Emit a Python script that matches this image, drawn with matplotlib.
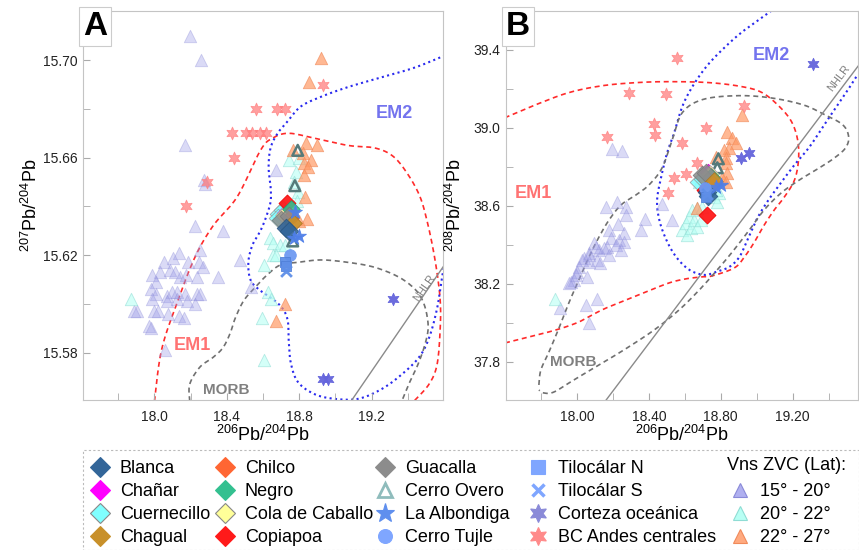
import numpy as np
import matplotlib
matplotlib.use('Agg')
import matplotlib.pyplot as plt
from matplotlib.lines import Line2D
from matplotlib.patches import Rectangle
from matplotlib.ticker import MultipleLocator, FormatStrFormatter

plt.rcParams['font.family'] = ['Liberation Sans', 'DejaVu Sans']
plt.rcParams['mathtext.default'] = 'regular'

# ---------------- panel A : 206Pb/204Pb vs 207Pb/204Pb ----------------
a_lat1 = [(18.195, 15.710), (18.257, 15.700), (18.167, 15.665), (18.273, 15.651), (18.279, 15.649),
          (18.670, 15.655), (18.223, 15.632), (18.379, 15.630), (18.474, 15.618), (18.536, 15.607),
          (18.134, 15.621), (18.100, 15.619), (18.050, 15.617), (18.184, 15.617), (18.251, 15.622),
          (18.246, 15.617), (18.268, 15.615), (18.352, 15.611), (18.033, 15.613), (17.989, 15.612),
          (18.084, 15.614), (18.112, 15.613), (18.140, 15.611), (18.173, 15.612), (18.234, 15.611),
          (18.011, 15.609), (17.983, 15.606), (18.011, 15.604), (17.989, 15.602), (18.067, 15.603),
          (18.095, 15.605), (18.123, 15.605), (18.167, 15.604), (18.234, 15.604), (18.251, 15.604),
          (18.067, 15.601), (18.123, 15.602), (18.179, 15.601), (18.223, 15.600), (17.905, 15.597),
          (17.888, 15.597), (18.000, 15.597), (18.022, 15.597), (18.073, 15.596), (18.134, 15.595),
          (18.162, 15.594), (17.972, 15.591), (17.983, 15.590), (18.061, 15.581)]
a_lat2 = [(17.872, 15.602), (18.742, 15.659), (18.798, 15.660), (18.781, 15.654), (18.770, 15.650),
          (18.792, 15.646), (18.787, 15.642), (18.636, 15.627), (18.658, 15.625), (18.692, 15.624),
          (18.720, 15.624), (18.658, 15.620), (18.608, 15.616), (18.670, 15.620), (18.625, 15.605),
          (18.642, 15.602), (18.597, 15.594), (18.603, 15.577)]
a_lat3 = [(18.921, 15.701), (18.854, 15.691), (18.837, 15.666), (18.898, 15.665), (18.764, 15.663),
          (18.820, 15.662), (18.865, 15.659), (18.826, 15.658), (18.848, 15.656), (18.826, 15.653),
          (18.831, 15.644), (18.843, 15.635), (18.798, 15.634), (18.720, 15.600), (18.670, 15.593)]
a_bc = [(18.932, 15.690), (18.564, 15.680), (18.675, 15.680), (18.720, 15.680), (18.430, 15.670),
        (18.508, 15.670), (18.541, 15.670), (18.586, 15.670), (18.614, 15.670), (18.441, 15.660),
        (18.290, 15.650), (18.173, 15.640)]
a_oc = [(19.317, 15.602), (18.932, 15.569), (18.960, 15.569)]
a_overo = [(18.792, 15.663), (18.776, 15.6485), (18.764, 15.6258)]
a_albondiga = [(18.776, 15.6378), (18.798, 15.628), (18.770, 15.627)]
a_tujle = [(18.748, 15.620)]
a_tilo_n = [(18.720, 15.6172), (18.725, 15.6155)]
a_tilo_s = [(18.725, 15.6135)]
a_cuernecillo = [(18.686, 15.637), (18.709, 15.6386), (18.681, 15.6353)]
a_chanar = [(18.720, 15.6374)]
a_cola = [(18.714, 15.6366)]
a_copiapoa = [(18.731, 15.6415)]
a_negro = [(18.753, 15.639)]
a_chilco = [(18.748, 15.6353)]
a_guacalla = [(18.698, 15.6345), (18.742, 15.636)]
a_chagual = [(18.764, 15.6333)]
a_blanca = [(18.725, 15.6312), (18.742, 15.630)]

a_em1 = [(18.000, 15.560), (18.039, 15.581), (18.123, 15.600), (18.223, 15.619), (18.324, 15.632),
         (18.458, 15.644), (18.586, 15.663), (18.653, 15.668), (18.742, 15.670), (18.882, 15.668),
         (19.071, 15.665), (19.216, 15.664), (19.311, 15.661), (19.384, 15.655), (19.462, 15.645),
         (19.507, 15.634), (19.551, 15.618), (19.579, 15.602), (19.579, 15.589), (19.562, 15.575),
         (19.518, 15.567), (19.434, 15.560)]
a_em2 = [(19.607, 15.702), (19.440, 15.697), (19.256, 15.693), (19.071, 15.689), (18.921, 15.685),
         (18.809, 15.681), (18.737, 15.675), (18.681, 15.670), (18.642, 15.664), (18.631, 15.656),
         (18.642, 15.648), (18.642, 15.642), (18.619, 15.636), (18.586, 15.630), (18.541, 15.624),
         (18.519, 15.617), (18.530, 15.610), (18.575, 15.606), (18.653, 15.602), (18.709, 15.598),
         (18.737, 15.593), (18.742, 15.585), (18.753, 15.576), (18.792, 15.568), (18.882, 15.563),
         (18.993, 15.561), (19.127, 15.561), (19.256, 15.565), (19.367, 15.571), (19.462, 15.578),
         (19.518, 15.586), (19.562, 15.598), (19.590, 15.611), (19.607, 15.618)]
a_morb = [(18.195, 15.560), (18.195, 15.567), (18.251, 15.574), (18.324, 15.578), (18.379, 15.582),
          (18.419, 15.588), (18.446, 15.594), (18.491, 15.601), (18.547, 15.606), (18.625, 15.612),
          (18.698, 15.616), (18.792, 15.617), (18.921, 15.618), (19.071, 15.617), (19.216, 15.615),
          (19.350, 15.611), (19.440, 15.606), (19.484, 15.601), (19.507, 15.595), (19.512, 15.589),
          (19.490, 15.582), (19.456, 15.575), (19.412, 15.568), (19.367, 15.560)]
a_nhlr_x = [19.0, 19.7]
a_nhlr_slope, a_nhlr_icpt = 0.1084, 13.491

# ---------------- panel B : 206Pb/204Pb vs 208Pb/204Pb ----------------
b_lat1 = [(18.195, 38.892), (18.251, 38.882), (18.162, 38.595), (18.223, 38.621), (18.273, 38.595),
          (18.273, 38.554), (18.379, 38.533), (18.474, 38.610), (18.530, 38.528), (18.357, 38.477),
          (18.229, 38.508), (18.179, 38.477), (18.190, 38.436), (18.234, 38.426), (18.262, 38.462),
          (18.262, 38.415), (18.218, 38.400), (18.246, 38.374), (18.167, 38.390), (18.151, 38.385),
          (18.123, 38.374), (18.106, 38.390), (18.095, 38.410), (18.067, 38.359), (18.067, 38.349),
          (18.039, 38.333), (18.028, 38.323), (18.067, 38.313), (18.011, 38.287), (18.000, 38.262),
          (17.983, 38.221), (17.967, 38.210), (17.955, 38.205), (17.994, 38.246), (18.056, 38.236),
          (18.112, 38.323), (18.179, 38.349), (18.128, 38.308), (17.905, 38.077), (18.050, 38.092),
          (18.112, 38.123), (18.067, 37.999)]
b_lat2 = [(17.877, 38.123), (18.586, 38.477), (18.614, 38.451), (18.608, 38.513), (18.625, 38.544),
          (18.636, 38.487), (18.653, 38.528), (18.670, 38.492), (18.642, 38.579), (18.670, 38.590),
          (18.692, 38.528), (18.698, 38.595), (18.764, 38.646), (18.781, 38.621), (18.792, 38.667),
          (18.776, 38.682), (18.681, 38.723), (18.709, 38.744)]
b_lat3 = [(18.921, 39.067), (18.837, 38.980), (18.865, 38.949), (18.887, 38.923), (18.848, 38.897),
          (18.820, 38.887), (18.776, 38.851), (18.831, 38.846), (18.831, 38.821), (18.837, 38.769),
          (18.809, 38.744), (18.831, 38.723), (18.753, 38.733), (18.670, 38.590)]
b_bc = [(18.558, 39.359), (18.290, 39.180), (18.497, 39.174), (18.430, 39.021), (18.435, 38.964),
        (18.720, 39.000), (18.167, 38.954), (18.586, 38.923), (18.670, 38.821), (18.608, 38.764),
        (18.541, 38.744), (18.508, 38.667), (18.932, 39.113)]
b_oc = [(19.311, 39.328), (18.915, 38.846), (18.960, 38.872)]
b_overo = [(18.787, 38.841), (18.781, 38.795)]
b_albondiga = [(18.804, 38.708), (18.776, 38.697)]
b_tujle = [(18.714, 38.690)]
b_tilo_n = [(18.720, 38.646)]
b_tilo_s = [(18.725, 38.660)]
b_cuernecillo = [(18.681, 38.723), (18.703, 38.738)]
b_chanar = [(18.731, 38.774)]
b_cola = [(18.742, 38.764)]
b_copiapoa = [(18.725, 38.554), (18.714, 38.682)]
b_negro = [(18.748, 38.749)]
b_chilco = [(18.759, 38.713)]
b_guacalla = [(18.698, 38.759), (18.720, 38.769)]
b_chagual = [(18.764, 38.728)]
b_blanca = [(18.725, 38.672), (18.731, 38.651)]

b_em1 = [(17.598, 39.051), (17.771, 39.118), (17.955, 39.180), (18.140, 39.215), (18.329, 39.231),
         (18.513, 39.236), (18.737, 39.231), (18.921, 39.210), (19.032, 39.179), (19.127, 39.108),
         (19.194, 39.031), (19.228, 38.938), (19.233, 38.836), (19.211, 38.733), (19.155, 38.646),
         (19.099, 38.580), (19.043, 38.503), (18.988, 38.415), (18.932, 38.338), (18.876, 38.282),
         (18.753, 38.241), (18.698, 38.236), (18.608, 38.226), (18.513, 38.205), (18.385, 38.159),
         (18.273, 38.118), (18.140, 38.067), (18.011, 38.005), (17.883, 37.964), (17.732, 37.928),
         (17.598, 37.897)]
b_em2 = [(19.083, 39.600), (18.921, 39.492), (18.809, 39.400), (18.720, 39.313), (18.642, 39.210),
         (18.586, 39.108), (18.541, 38.974), (18.502, 38.872), (18.469, 38.749), (18.446, 38.631),
         (18.458, 38.528), (18.497, 38.426), (18.552, 38.338), (18.625, 38.272), (18.709, 38.246),
         (18.776, 38.262), (18.848, 38.287), (18.904, 38.338), (18.949, 38.426), (18.999, 38.528),
         (19.055, 38.615), (19.127, 38.708), (19.211, 38.810), (19.295, 38.903), (19.395, 39.041),
         (19.490, 39.169), (19.562, 39.272)]
b_morb = [(17.788, 37.682), (17.799, 37.759), (17.844, 37.851), (17.900, 37.974), (17.955, 38.103),
          (18.011, 38.221), (18.067, 38.338), (18.123, 38.441), (18.179, 38.528), (18.246, 38.605),
          (18.329, 38.656), (18.402, 38.708), (18.474, 38.795), (18.530, 38.938), (18.586, 39.077),
          (18.698, 39.144), (18.887, 39.164), (19.071, 39.154), (19.256, 39.118), (19.378, 39.067),
          (19.479, 39.015), (19.512, 38.954), (19.495, 38.897), (19.434, 38.846), (19.350, 38.795),
          (19.239, 38.733), (19.138, 38.667), (19.043, 38.580), (18.960, 38.477), (18.865, 38.364),
          (18.781, 38.272), (18.681, 38.169), (18.569, 38.067), (18.430, 37.964), (18.262, 37.862),
          (18.123, 37.785), (17.983, 37.708), (17.872, 37.646), (17.816, 37.641), (17.788, 37.656)]
b_nhlr_x = [18.0, 19.7]
b_nhlr_slope, b_nhlr_icpt = 1.22, 15.447

legend_labels = ['Blanca', 'Chañar', 'Cuernecillo', 'Chagual',
                 'Chilco', 'Negro', 'Cola de Caballo', 'Copiapoa',
                 'Guacalla', 'Cerro Overo', 'La Albondiga', 'Cerro Tujle',
                 'Tilocálar N', 'Tilocálar S', 'Corteza oceánica', 'BC Andes centrales',
                 ' ', '15° - 20°', '20° - 22°', '22° - 27°']

HEX = (6, 1, 0)
# style per series: marker, face, edge, size, alpha
STY = {
    'lat1': ('^', '#9f9fe8', '#8a8ad8', 80, 0.38),
    'lat2': ('^', '#b8fff4', '#8fdcd4', 80, 0.6),
    'lat3': ('^', '#ff9a66', '#f08a5a', 80, 0.7),
    'bc': (HEX, '#ff7f7f', '#ff7f7f', 85, 0.75),
    'oc': (HEX, '#6464dc', '#6464dc', 80, 0.95),
    'cuernecillo': ('D', '#80ffff', '#999999', 90, 0.85),
    'chanar': ('D', '#ff00ff', '#cc00cc', 70, 0.9),
    'cola': ('D', '#ffff99', '#aaaaaa', 80, 0.9),
    'copiapoa': ('D', '#ff1a1a', '#ee0000', 75, 0.95),
    'negro': ('D', '#33c090', '#229970', 80, 0.9),
    'chilco': ('D', '#ff6633', '#dd5522', 75, 0.9),
    'guacalla': ('D', '#8c8c8c', '#777777', 90, 0.85),
    'chagual': ('D', '#c8902a', '#aa7722', 80, 0.9),
    'blanca': ('D', '#336699', '#2a5580', 90, 0.9),
    'overo': ('^', 'none', '#557a7a', 60, 1.0),
    'albondiga': ('*', '#4f7fe8', '#4f7fe8', 110, 0.95),
    'tujle': ('o', '#6f9af2', '#6f9af2', 70, 0.95),
    'tilo_n': ('s', '#5f8fe8', '#4f7fd8', 60, 0.95),
    'tilo_s': ('x', '#5f8fe8', '#5f8fe8', 60, 0.95),
}


def smooth(pts, n=14):
    p = np.array(pts, dtype=float)
    p = np.vstack([p[0], p, p[-1]])
    t = np.linspace(0, 1, n, endpoint=False)[:, None]
    out = []
    for i in range(1, len(p) - 2):
        p0, p1, p2, p3 = p[i - 1], p[i], p[i + 1], p[i + 2]
        out.append(0.5 * (2 * p1 + (-p0 + p2) * t + (2 * p0 - 5 * p1 + 4 * p2 - p3) * t ** 2
                          + (-p0 + 3 * p1 - 3 * p2 + p3) * t ** 3))
    out.append(p[-2][None])
    return np.vstack(out)


def scat(ax, pts, key, z):
    m, fc, ec, s, a = STY[key]
    x, y = zip(*pts)
    if m == 'x':
        ax.scatter(x, y, marker=m, s=s, c=fc, alpha=a, linewidths=2, zorder=z)
    elif fc == 'none':
        ax.scatter(x, y, marker=m, s=s, facecolors='none', edgecolors=ec, linewidths=1.8, zorder=z)
    else:
        ax.scatter(x, y, marker=m, s=s, c=fc, edgecolors=ec, linewidths=0.6, alpha=a, zorder=z)


def curves(ax, em1, em2, morb, nx, slope, icpt):
    c = smooth(em1)
    ax.plot(c[:, 0], c[:, 1], color='#ff2a2a', lw=1.2, ls=(0, (3, 2.2)), zorder=1)
    c = smooth(em2)
    ax.plot(c[:, 0], c[:, 1], color='#2a2aee', lw=1.5, ls=(0, (1, 1.6)), zorder=1)
    c = smooth(morb)
    ax.plot(c[:, 0], c[:, 1], color='#707070', lw=1.2, ls=(0, (3, 2.2)), zorder=1)
    nx = np.array(nx)
    ax.plot(nx, slope * nx + icpt, color='#8a8a8a', lw=1.0, zorder=1)


def style_axes(ax, xfmt, yfmt, ymaj, yoff, ymin):
    ax.xaxis.set_major_locator(MultipleLocator(0.4))
    ax.xaxis.set_minor_locator(MultipleLocator(0.2))
    ax.yaxis.set_major_locator(MultipleLocator(ymaj, offset=yoff))
    ax.yaxis.set_minor_locator(MultipleLocator(ymin))
    ax.xaxis.set_major_formatter(FormatStrFormatter(xfmt))
    ax.yaxis.set_major_formatter(FormatStrFormatter(yfmt))
    ax.tick_params(which='both', direction='in', length=5, color='#aaaaaa', labelsize=10,
                   labelcolor='#222222')
    ax.tick_params(axis='x', which='both', pad=7)
    ax.tick_params(axis='y', which='both', pad=4)
    for sp in ax.spines.values():
        sp.set_color('#c4c4c4')
    ax.set_xlabel('$^{206}$Pb/$^{204}$Pb', fontsize=13)
    ax.xaxis.set_label_coords(0.5, -0.065)


fig = plt.figure(figsize=(8.59, 5.5), dpi=100)
axA = fig.add_axes([83 / 859, 150 / 550, 360 / 859, 389 / 550])
axB = fig.add_axes([506 / 859, 150 / 550, 352 / 859, 389 / 550])

panels = [
    (axA, dict(lat1=a_lat1, lat2=a_lat2, lat3=a_lat3, bc=a_bc, oc=a_oc, overo=a_overo,
               cuernecillo=a_cuernecillo, chanar=a_chanar, cola=a_cola, copiapoa=a_copiapoa,
               negro=a_negro, chilco=a_chilco, guacalla=a_guacalla, chagual=a_chagual,
               blanca=a_blanca, albondiga=a_albondiga, tujle=a_tujle, tilo_n=a_tilo_n,
               tilo_s=a_tilo_s)),
    (axB, dict(lat1=b_lat1, lat2=b_lat2, lat3=b_lat3, bc=b_bc, oc=b_oc, overo=b_overo,
               cuernecillo=b_cuernecillo, chanar=b_chanar, cola=b_cola, copiapoa=b_copiapoa,
               negro=b_negro, chilco=b_chilco, guacalla=b_guacalla, chagual=b_chagual,
               blanca=b_blanca, albondiga=b_albondiga, tujle=b_tujle, tilo_n=b_tilo_n,
               tilo_s=b_tilo_s)),
]
for ax, groups in panels:
    for z, (key, pts) in enumerate(groups.items()):
        scat(ax, pts, key, 2 + z * 0.1)

curves(axA, a_em1, a_em2, a_morb, a_nhlr_x, a_nhlr_slope, a_nhlr_icpt)
curves(axB, b_em1, b_em2, b_morb, b_nhlr_x, b_nhlr_slope, b_nhlr_icpt)

axA.set_xlim(17.605, 19.595)
axA.set_ylim(15.5605, 15.7202)
style_axes(axA, '%.1f', '%.2f', 0.04, 0.02, 0.02)
axA.set_ylabel('$^{207}$Pb/$^{204}$Pb', fontsize=13)
axA.yaxis.set_label_coords(-0.118, 0.5)

axB.set_xlim(17.605, 19.564)
axB.set_ylim(37.605, 39.598)
style_axes(axB, '%.2f', '%.1f', 0.4, 0.2, 0.2)
axB.set_ylabel('$^{208}$Pb/$^{204}$Pb', fontsize=13)
axB.yaxis.set_label_coords(-0.116, 0.5)

# field labels
axA.text(19.328, 15.678, 'EM2', color='#7373ee', fontsize=13, weight='bold', ha='center', va='center')
axA.text(18.212, 15.583, 'EM1', color='#ff7373', fontsize=13, weight='bold', ha='center', va='center')
axA.text(18.396, 15.5645, 'MORB', color='#808080', fontsize=11, weight='bold', ha='center', va='center')
axA.text(19.490, 15.6065, 'NHLR', color='#808080', fontsize=8, rotation=55, ha='center', va='center')
axB.text(19.083, 39.369, 'EM2', color='#7373ee', fontsize=13, weight='bold', ha='center', va='center')
axB.text(17.760, 38.662, 'EM1', color='#ff7373', fontsize=13, weight='bold', ha='center', va='center')
axB.text(17.978, 37.800, 'MORB', color='#808080', fontsize=11, weight='bold', ha='center', va='center')
axB.text(19.455, 39.255, 'NHLR', color='#808080', fontsize=8, rotation=53, ha='center', va='center')

for ax, letter in [(axA, 'A'), (axB, 'B')]:
    ax.text(0.0, 1.0, letter, transform=ax.transAxes, ha='left', va='top', fontsize=24,
            weight='bold', zorder=10,
            bbox=dict(boxstyle='square,pad=0.12', fc='white', ec='#cccccc', lw=0.8))

# legend
order = ['blanca', 'chanar', 'cuernecillo', 'chagual', 'chilco', 'negro', 'cola', 'copiapoa',
         'guacalla', 'overo', 'albondiga', 'tujle', 'tilo_n', 'tilo_s', 'oc', 'bc',
         None, 'lat1', 'lat2', 'lat3']
legend_colors = {'overo': '#8fbcbc', 'oc': '#8a8ad8', 'bc': '#ff8a8a', 'lat1': '#b0b0f0',
                 'lat2': '#b8fff4', 'lat3': '#ffaa80', 'tujle': '#7fa6ff', 'tilo_n': '#7fa6ff',
                 'tilo_s': '#7fa6ff', 'albondiga': '#5f8fee'}
handles = []
for key in order:
    if key is None:
        handles.append(Line2D([], [], ls='none'))
        continue
    m, fc, ec, s, a = STY[key]
    fc = legend_colors.get(key, fc)
    ms = 10 if m != '*' else 14
    if m == HEX:
        ms = 13
    if key == 'overo':
        handles.append(Line2D([], [], ls='none', marker='^', ms=10, mfc='none', mec=fc, mew=2))
    elif m == 'x':
        handles.append(Line2D([], [], ls='none', marker='x', ms=9, mec=fc, mew=2.5))
    else:
        edge = '#888888' if key in ('cuernecillo', 'cola') else fc
        if key.startswith('lat'):
            edge = ec
        handles.append(Line2D([], [], ls='none', marker=m, ms=ms, mfc=fc, mec=edge, mew=0.8))

# one legend per column, marker centres as in the reference
col_marker_px = [100, 225, 385, 538, 740]
half_handle = 1.3 * 13 / 72 * 100 / 2
for i, cx in enumerate(col_marker_px):
    fig.legend(handles[4 * i:4 * i + 4], legend_labels[4 * i:4 * i + 4], loc='upper left',
               bbox_to_anchor=((cx - half_handle) / 859, 1 - 460 / 550),
               fontsize=13, handletextpad=0.45, handlelength=1.3, labelspacing=0.33,
               borderaxespad=0, borderpad=0, frameon=False)
fig.add_artist(Rectangle((83 / 859, 0.5 / 550), 775.5 / 859, 99.5 / 550, transform=fig.transFigure,
                         fill=False, ec='#bbbbbb', lw=0.8, ls=(0, (2, 2))))
fig.text(727 / 859, 1 - 466 / 550, 'Vns ZVC (Lat):', fontsize=13, va='center', ha='left',
         zorder=10)

fig.savefig('out.png', dpi=100)
